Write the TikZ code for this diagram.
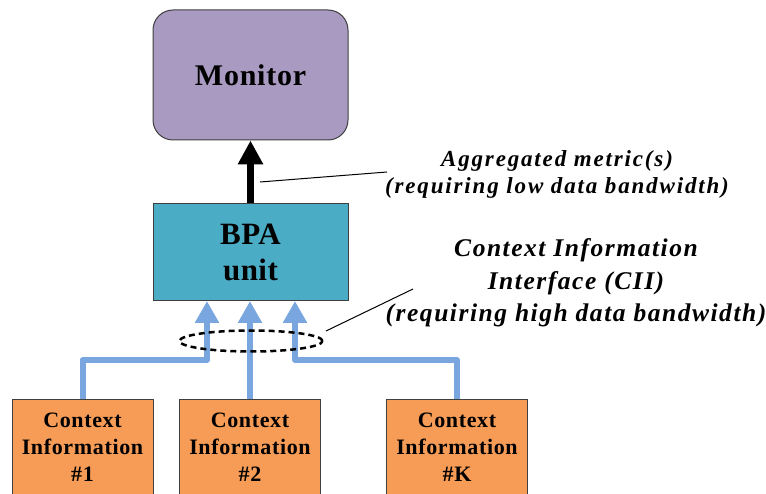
\documentclass[tikz,border=0pt]{standalone}
\usepackage{fontspec}
\setmainfont{Liberation Serif}
\usetikzlibrary{arrows.meta,shapes.geometric}

\definecolor{monfill}{HTML}{A99AC1}
\definecolor{bpafill}{HTML}{4BACC6}
\definecolor{ctxfill}{HTML}{F69C56}
\definecolor{ciiblue}{HTML}{79A6DE}
\definecolor{edge}{HTML}{3F3F3F}

\begin{document}
\begin{tikzpicture}[x=1pt,y=-1pt,
  box/.style={draw=edge, line width=1pt, inner sep=0pt, align=center},
  monbox/.style={box, fill=monfill, rounded corners=20pt,
    minimum width=195pt, minimum height=130pt,
    font=\fontsize{30}{36}\selectfont\bfseries\addfontfeature{LetterSpace=2.5}},
  bpabox/.style={box, fill=bpafill, minimum width=195pt, minimum height=97pt,
    font=\fontsize{31}{36}\selectfont\bfseries\addfontfeature{LetterSpace=1.5}},
  ctxbox/.style={box, fill=ctxfill, minimum width=141pt, minimum height=96pt,
    font=\fontsize{22}{27}\selectfont\bfseries\addfontfeature{LetterSpace=3}},
  lblA/.style={inner sep=0pt, align=center,
    font=\fontsize{23}{27}\selectfont\bfseries\itshape\addfontfeature{LetterSpace=8}},
  lblB/.style={inner sep=0pt, align=center,
    font=\fontsize{25.5}{32.5}\selectfont\bfseries\itshape\addfontfeature{LetterSpace=6}},
  ciiarrow/.style={draw=ciiblue, line width=6pt, line join=round,
    -{Triangle[width=23pt,length=22pt]}},
  aggarrow/.style={draw=black, line width=7pt,
    -{Triangle[width=24pt,length=24pt]}},
  pointer/.style={draw=black, line width=1pt},
  bundle/.style={draw=black, ellipse, line width=2.5pt,
    dash pattern=on 6pt off 4pt, inner sep=0pt,
    minimum width=143pt, minimum height=21pt}
]
\useasboundingbox (0,0) rectangle (766,494);
\clip (0,0) rectangle (766,494);

% blocks
\node[monbox] (mon) at (250.5,75) {Monitor};
\node[bpabox] (bpa) at (250.5,252.5) {BPA\\unit};
\node[ctxbox] (c1) at (82.5,447) {Context\\Information\\\#1};
\node[ctxbox] (c2) at (250,447) {Context\\Information\\\#2};
\node[ctxbox] (cK) at (457,447) {Context\\Information\\\#K};

% context information interface
\coordinate (t1) at (207,301);
\coordinate (t2) at (250,301);
\coordinate (t3) at (295,301);
\coordinate (bend) at (0,360);
\draw[ciiarrow] (c1.north) |- (bend -| t1) -- (t1);
\draw[ciiarrow] (c2.north) -- (t2);
\draw[ciiarrow] (cK.north) |- (bend -| t3) -- (t3);
\node[bundle] (cii) at (251,341) {};

% aggregated metric output
\draw[aggarrow] (bpa.north) -- (mon.south);

% annotations (anchored on the baseline of the last line)
\node[lblA, anchor=base] (aggtxt) at (557,194)
  {Aggregated metric(s)\\(requiring low data bandwidth)};
\node[lblB, anchor=base] (ciitxt) at (576,322)
  {Context Information\\Interface (CII)\\(requiring high data bandwidth)};
\coordinate (p1a) at (260,182);
\coordinate (p1b) at (387,172);
\coordinate (p2a) at (326,331);
\coordinate (p2b) at (413,289);
\draw[pointer] (p1a) -- (p1b);
\draw[pointer] (p2a) -- (p2b);
\end{tikzpicture}
\end{document}
